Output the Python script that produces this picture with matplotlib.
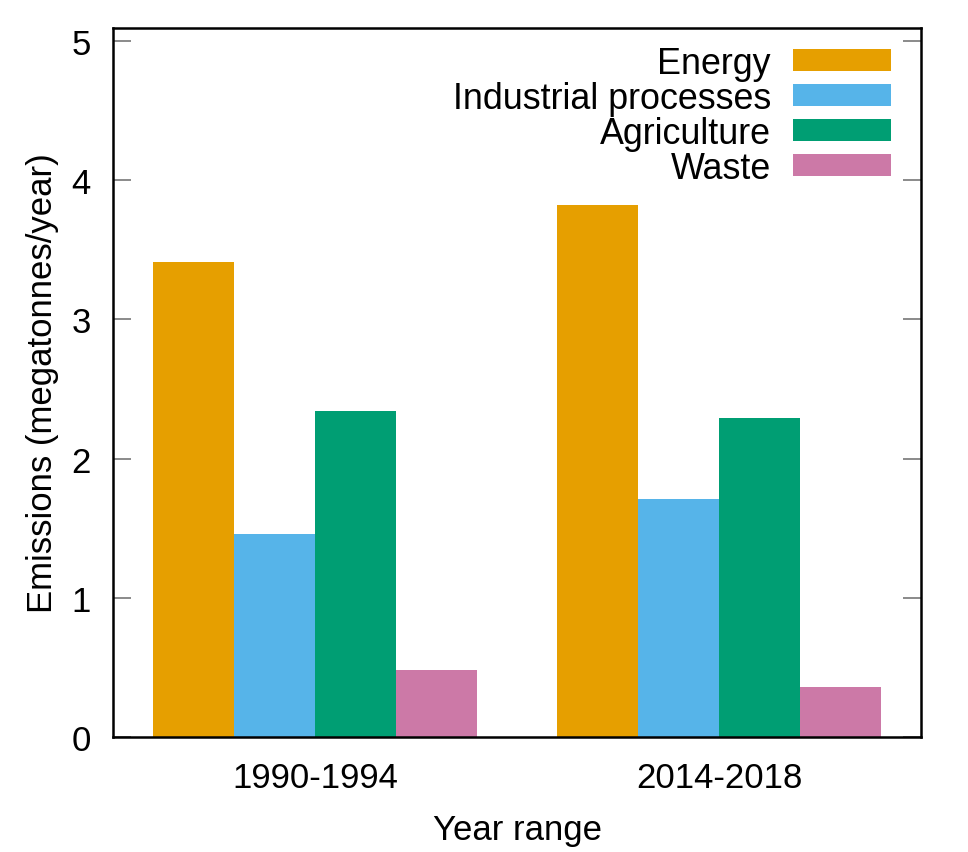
import numpy as np
import matplotlib.pyplot as plt
from matplotlib.patches import Patch

plt.rcParams['font.family'] = ['Liberation Sans', 'DejaVu Sans']

# data
year_ranges = ['1990-1994', '2014-2018']
sectors = ['Energy', 'Industrial processes', 'Agriculture', 'Waste']
energy = [3.41, 3.82]
industrial = [1.46, 1.71]
agriculture = [2.34, 2.29]
waste = [0.48, 0.36]
colors = ['#E69F00', '#56B4E9', '#009E73', '#CC79A7']

values = [energy, industrial, agriculture, waste]

fig = plt.figure(figsize=(9.68, 8.53), dpi=100)
ax = fig.add_axes([0.1167, 0.1348, 0.8348, 0.8312])

x = np.arange(len(year_ranges))
width = 0.2
for i, (vals, c) in enumerate(zip(values, colors)):
    ax.bar(x + (i - 1.5) * width, vals, width, color=c, linewidth=0)

ax.set_xlim(-0.5, 1.5)
ax.set_ylim(0, 5.093)
ax.set_yticks([0, 1, 2, 3, 4, 5])
ax.set_xticks(x)
ax.set_xticklabels(year_ranges)

ax.tick_params(axis='y', direction='in', length=13, width=1.2, color='#777777',
               labelsize=25, pad=16, right=True)
ax.tick_params(axis='x', length=0, labelsize=25, pad=17)
for s in ax.spines.values():
    s.set_linewidth(1.8)

ax.set_xlabel('Year range', fontsize=25, labelpad=14)
ax.set_ylabel('Emissions (megatonnes/year)', fontsize=25, labelpad=9)

handles = [Patch(facecolor=c, linewidth=0) for c in colors]
ax.legend(handles, sectors, loc='upper right', bbox_to_anchor=(0.963, 0.975),
          frameon=False, markerfirst=False, fontsize=25.8, handlelength=2.75,
          handleheight=0.53, labelspacing=0.0, handletextpad=0.6,
          borderaxespad=0, borderpad=0)

fig.savefig('out.png', dpi=100)
